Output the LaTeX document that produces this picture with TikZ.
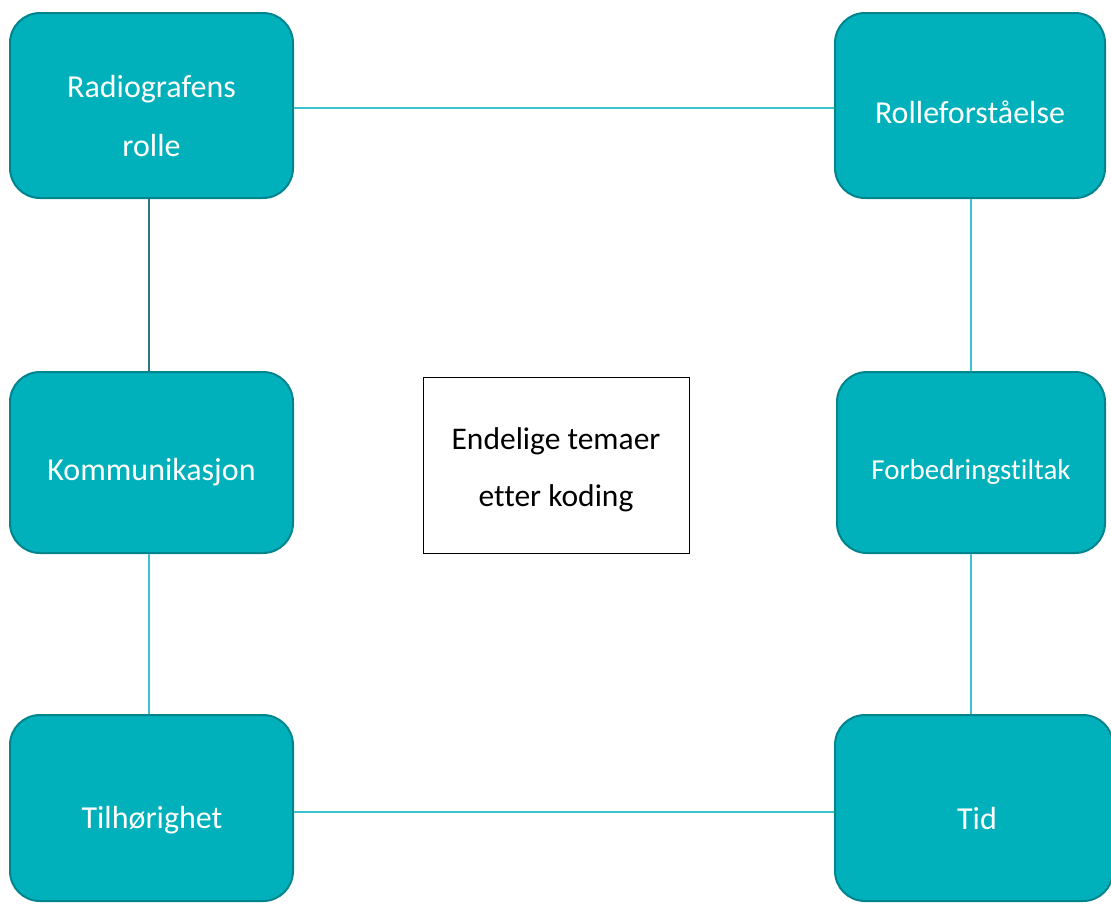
\documentclass[tikz,border=0pt]{standalone}
\usepackage{fontspec}
\setmainfont{Carlito}[Ligatures=NoCommon]
\definecolor{boxfill}{HTML}{00B0BA}
\definecolor{boxline}{HTML}{00848E}
\definecolor{linklight}{HTML}{3EC4CE}
\definecolor{linkdark}{HTML}{2E7486}
\tikzset{
  theme/.style={draw=boxline, line width=2pt, fill=boxfill, rounded corners=30pt, inner sep=0pt},
  themetext/.style={text=white, font=\fontsize{32}{59}\selectfont, align=center, inner sep=0pt},
  centerbox/.style={draw=black, line width=1pt, fill=white, inner sep=0pt},
  centertext/.style={text=black, font=\fontsize{31.5}{57}\selectfont, align=center, inner sep=0pt},
  link/.style={draw=linklight, line width=1.4pt},
  darklink/.style={draw=linkdark, line width=1.4pt}
}
\begin{document}
\begin{tikzpicture}[x=1pt,y=-1pt]
\path[use as bounding box] (0,0) rectangle (1111,903);
\begin{scope}
\clip (0,0) rectangle (1111,903);
% boxes
\node[theme, minimum width=283pt, minimum height=185pt] (rad) at (151.5,105.5) {};
\node[theme, minimum width=270pt, minimum height=185pt] (rol) at (970,105.5) {};
\node[theme, minimum width=283pt, minimum height=181pt] (kom) at (151.5,462.5) {};
\node[theme, minimum width=268pt, minimum height=181pt] (for) at (971,462.5) {};
\node[theme, minimum width=283pt, minimum height=186pt] (til) at (151.5,808) {};
\node[theme, minimum width=278pt, minimum height=186pt] (tid) at (974,808) {};
\node[centerbox, minimum width=266pt, minimum height=176pt] (cen) at (556,465) {};
% connectors
\draw[link] ([yshift=-2.5pt]rad.east) -- ([yshift=-2.5pt]rol.west);
\draw[darklink] ([xshift=-2.5pt]rad.south) -- ([xshift=-2.5pt]kom.north);
\draw[link] ([xshift=-2.5pt]kom.south) -- ([xshift=-2.5pt]til.north);
\draw[link] ([yshift=-4pt]til.east) -- ([yshift=-4pt]tid.west);
\draw[link] ([xshift=1pt]rol.south) -- ([xshift=1pt]rol.south |- for.north);
\draw[link] (for.south) -- (for.south |- tid.north);
% texts
\node[themetext] (radt) at (151.5,116) {Radiografens\\rolle};
\node[themetext, anchor=base] (rolt) at (970,123) {Rolleforståelse};
\node[themetext, anchor=base] (komt) at (151.5,480) {Kommunikasjon};
\node[themetext, anchor=base, font=\fontsize{29}{40}\selectfont] (fort) at (971,479) {Forbedringstiltak};
\node[themetext, anchor=base] (tilt) at (152,828) {Tilhørighet};
\node[themetext, anchor=base] (tidt) at (977,829) {Tid};
\node[centertext] (cent) at (556,470) {Endelige temaer\\etter koding};
\end{scope}
\end{tikzpicture}
\end{document}
